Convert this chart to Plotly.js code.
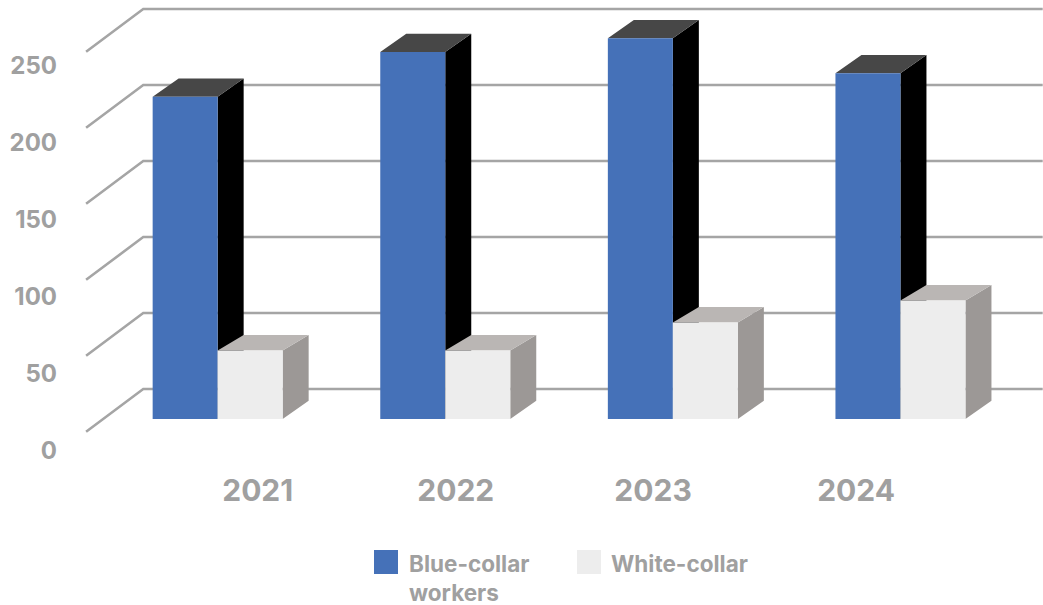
<!DOCTYPE html>
<html>
<head>
<meta charset="utf-8">
<script src="https://cdn.plot.ly/plotly-3.0.1.min.js"></script>
<style>html,body{margin:0;padding:0;background:#fff;overflow:hidden}#chart{width:1043px;height:605px}</style>
</head>
<body>
<div id="chart"></div>
<script>
// Headcount by year and collar type
const years = ['2021', '2022', '2023', '2024'];
const blueCollar = [212, 241.5, 250.5, 227.5];
const whiteCollar = [45, 45, 63.5, 78];
const yTicks = [0, 50, 100, 150, 200, 250];
const yearLabelSlots = [0.176, 1.046, 1.913, 2.805];

const WIDTH = 1043, HEIGHT = 605;
const BAR_WIDTH = 0.2856;
const DEPTH_X = 0.1142, DEPTH_Y = 12;       // receding offset of a bar's back edge
const WHITE_TOP_DEPTH = 10.2;               // the shorter bars' tops recede a little less
const WALL_FRONT_X = -0.578, WALL_BACK_X = -0.327, WALL_END_X = 3.625;
const WALL_FRONT_DY = -8.4, WALL_BACK_DY = 19.7;
const X_RANGE = [-0.7015, 3.6263];
const Y_RANGE = [-33.55, 275.66];
const LABEL_RANGE = [-12.34, 292.86];
const MARGIN = {l: 58, r: 0, t: 0, b: 135};

const GRAY = '#A5A5A5';
const TEXT = '#A0A0A0';
const FONT = 'Inter, "Liberation Sans", sans-serif';

// Polygons (joined with gaps) for the side and top faces of one series
function sideFace(vals, x0, topDepth) {
  const xs = [], ys = [];
  vals.forEach((v, i) => {
    const r = i + x0 + BAR_WIDTH;
    xs.push(r, r + DEPTH_X, r + DEPTH_X, r, r, null);
    ys.push(0, DEPTH_Y, v + topDepth, v, 0, null);
  });
  return {xs, ys};
}
function topFace(vals, x0, topDepth) {
  const xs = [], ys = [];
  vals.forEach((v, i) => {
    const l = i + x0, r = l + BAR_WIDTH;
    xs.push(l, l + DEPTH_X, r + DEPTH_X, r, l, null);
    ys.push(v, v + topDepth, v + topDepth, v, v, null);
  });
  return {xs, ys};
}
function face(f, color, name) {
  return {type: 'scatter', x: f.xs, y: f.ys, mode: 'none', fill: 'toself', fillcolor: color,
          name, hoverinfo: 'skip', showlegend: false, xaxis: 'x', yaxis: 'y'};
}

// Wall gridlines: short diagonal from the floor edge, then flat along the back wall
const gridX = [], gridY = [];
yTicks.forEach(v => {
  gridX.push(WALL_FRONT_X, WALL_BACK_X, WALL_END_X, null);
  gridY.push(v + WALL_FRONT_DY, v + WALL_BACK_DY, v + WALL_BACK_DY, null);
});

const traces = [
  {type: 'scatter', x: gridX, y: gridY, mode: 'lines', line: {color: GRAY, width: 2.6},
   hoverinfo: 'skip', showlegend: false, xaxis: 'x', yaxis: 'y'},
  face(sideFace(blueCollar, -BAR_WIDTH, DEPTH_Y), '#000000', 'Blue-collar side'),
  face(topFace(blueCollar, -BAR_WIDTH, DEPTH_Y), '#474747', 'Blue-collar top'),
  face(sideFace(whiteCollar, 0, WHITE_TOP_DEPTH), '#9C9896', 'White-collar side'),
  face(topFace(whiteCollar, 0, WHITE_TOP_DEPTH), '#BAB6B4', 'White-collar top'),
  {type: 'bar', name: 'Blue-collar workers', x: years.map((_, i) => i), y: blueCollar,
   width: BAR_WIDTH, offset: -BAR_WIDTH, marker: {color: '#4571B8'},
   showlegend: false, xaxis: 'x', yaxis: 'y2'},
  {type: 'bar', name: 'White-collar', x: years.map((_, i) => i), y: whiteCollar,
   width: BAR_WIDTH, offset: 0, marker: {color: '#EDEDED'},
   showlegend: false, xaxis: 'x', yaxis: 'y2'},
  // Carries the value-axis labels, which sit on the floor's front edge
  {type: 'scatter', x: yTicks.map(() => 0), y: yTicks, mode: 'none', hoverinfo: 'skip',
   showlegend: false, xaxis: 'x', yaxis: 'y3'}
];

const plotW = WIDTH - MARGIN.l - MARGIN.r;
const plotH = HEIGHT - MARGIN.t - MARGIN.b;
const paperX = px => (px - MARGIN.l) / plotW;
const paperY = py => 1 - (py - MARGIN.t) / plotH;

function swatch(x, color) {
  return {type: 'rect', xref: 'paper', yref: 'paper', layer: 'above',
          x0: paperX(x), x1: paperX(x + 24), y0: paperY(574), y1: paperY(550),
          fillcolor: color, line: {width: 0}};
}
function legendText(x, text) {
  return {xref: 'paper', yref: 'paper', x: paperX(x), y: paperY(549), xanchor: 'left', yanchor: 'top',
          align: 'left', text, showarrow: false, borderpad: 0,
          font: {family: FONT, size: 22.5, color: TEXT, weight: 700}};
}

const hiddenAxis = {range: Y_RANGE, showgrid: false, zeroline: false, showline: false, showticklabels: false, ticks: ''};

const layout = {
  width: WIDTH, height: HEIGHT, margin: MARGIN, showlegend: false,
  paper_bgcolor: '#fff', plot_bgcolor: '#fff', barmode: 'overlay', hovermode: false,
  xaxis: {range: X_RANGE, tickmode: 'array', tickvals: yearLabelSlots, ticktext: years,
          showgrid: false, zeroline: false, showline: false, ticks: '', ticklen: 0,
          tickfont: {family: FONT, size: 30, color: TEXT, weight: 700}},
  yaxis: Object.assign({}, hiddenAxis),
  yaxis2: Object.assign({}, hiddenAxis, {overlaying: 'y'}),
  yaxis3: {overlaying: 'y', range: LABEL_RANGE, tickmode: 'array', tickvals: yTicks,
           showgrid: false, zeroline: false, showline: false, ticks: '',
           tickfont: {family: FONT, size: 24, color: TEXT, weight: 700}},
  shapes: [swatch(374, '#4571B8'), swatch(577, '#EDEDED')],
  annotations: [legendText(408, 'Blue-collar<br>workers'), legendText(610, 'White-collar')]
};

Plotly.newPlot('chart', traces, layout, {displayModeBar: false, staticPlot: true});
</script>
</body>
</html>
